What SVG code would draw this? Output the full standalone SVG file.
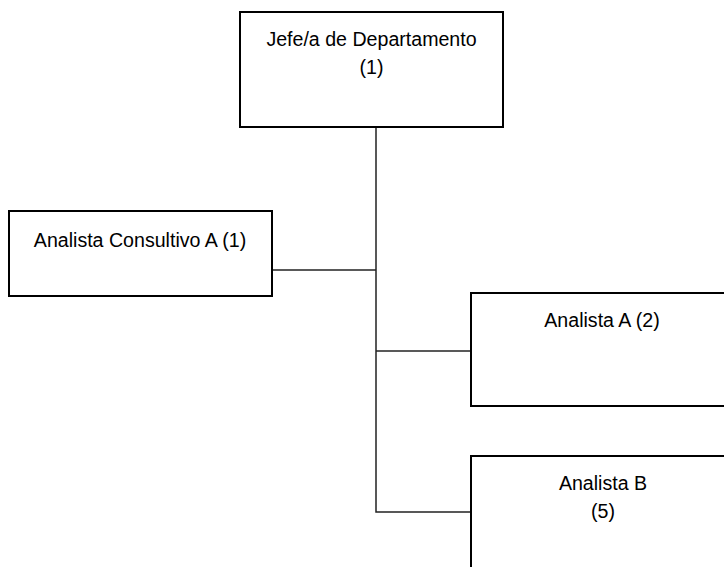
<svg xmlns="http://www.w3.org/2000/svg" width="724" height="567" viewBox="0 0 724 567">
<style>
.box{fill:#fff;stroke:#000;stroke-width:2}
.t{font-family:"Liberation Sans",Arial,sans-serif;font-size:19.6px;fill:#000;text-anchor:middle}
.c{fill:none;stroke:#222;stroke-width:1.5}
</style>
<rect width="724" height="567" fill="#fff"/>
<g id="connectors">
<path class="c" d="M376 127 V512 H471"/>
<path class="c" d="M272 270 H376"/>
<path class="c" d="M376 351 H471"/>
</g>
<g id="jefe">
<rect class="box" x="240" y="12" width="263" height="115"/>
<text class="t" x="371.5" y="45.7">Jefe/a de Departamento</text>
<text class="t" x="371.5" y="73.5">(1)</text>
</g>
<g id="consultivo">
<rect class="box" x="9" y="211" width="263" height="85"/>
<text class="t" x="140" y="246.5">Analista Consultivo A (1)</text>
</g>
<g id="analistaA">
<rect class="box" x="471" y="293" width="263" height="113"/>
<text class="t" x="602" y="326.5">Analista A (2)</text>
</g>
<g id="analistaB">
<rect class="box" x="471" y="456" width="263" height="130"/>
<text class="t" x="603" y="490">Analista B</text>
<text class="t" x="603" y="518">(5)</text>
</g>
</svg>
